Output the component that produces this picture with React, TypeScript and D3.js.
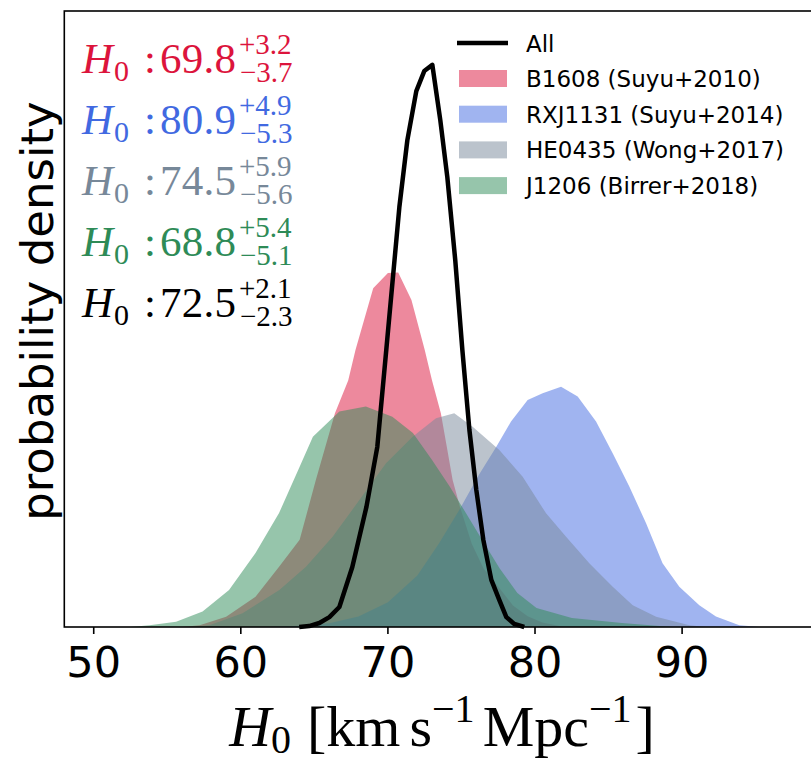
import React from "react";
import * as d3 from "d3";

// H0 samples and densities
const allH0 = [63.97, 64.65, 65.34, 66.02, 66.7, 67.58, 68.54, 69.28, 69.89, 70.78, 71.32, 71.93, 72.47, 73.02, 73.56, 74.04, 74.58, 75.06, 75.54, 76.01, 76.49, 77.03, 77.57, 78.05, 78.59, 79.27];
const allDensity = [0, 0.0003, 0.0013, 0.0032, 0.0065, 0.0195, 0.039, 0.0585, 0.09, 0.1364, 0.158, 0.174, 0.1805, 0.1825, 0.1646, 0.146, 0.119, 0.09, 0.064, 0.0445, 0.0282, 0.0153, 0.0088, 0.0032, 0.001, 0];

const b1608H0 = [56.0, 57.2, 59.0, 61.0, 62.6, 64.0, 65.1, 66.4, 67.3, 67.8, 69.0, 70.0, 70.7, 71.6, 72.5, 73.0, 73.6, 74.0, 74.4, 74.9, 75.7, 76.5, 77.6, 78.5, 79.5, 80.5, 82.0];
const b1608Density = [0, 0.0006, 0.0033, 0.0098, 0.0196, 0.0283, 0.0477, 0.0694, 0.08, 0.09, 0.11, 0.1149, 0.1151, 0.1062, 0.09, 0.08, 0.0694, 0.0586, 0.0477, 0.039, 0.027, 0.019, 0.0125, 0.007, 0.0035, 0.0015, 0];

const rxjH0 = [62, 64, 66, 68, 70, 72, 73.49, 74.85, 76.2, 77.37, 78.37, 79.5, 80.52, 81.77, 82.9, 84.15, 85.28, 86.41, 87.55, 88.67, 89.81, 91.17, 92.3, 93.89, 95.3];
const rxjDensity = [0, 0.0004, 0.0012, 0.0034, 0.008, 0.0167, 0.0273, 0.038, 0.0495, 0.0585, 0.0667, 0.0737, 0.0759, 0.078, 0.0748, 0.0667, 0.0564, 0.0456, 0.0337, 0.0207, 0.0131, 0.0071, 0.0034, 0.0006, 0];

const he0435H0 = [56.5, 57.86, 60.12, 62.62, 64.43, 66.24, 68.06, 69.87, 71.68, 73.27, 74.51, 75.76, 77.57, 79.16, 80.75, 82.11, 83.69, 85.28, 86.64, 88.23, 90.49, 91.63];
const he0435Density = [0, 0.0006, 0.0045, 0.012, 0.0196, 0.0293, 0.0412, 0.0532, 0.0618, 0.0678, 0.0694, 0.065, 0.0575, 0.0488, 0.0369, 0.0293, 0.0207, 0.0131, 0.0071, 0.0033, 0.0006, 0];

const j1206H0 = [52.5, 53.8, 55.6, 57.4, 59.2, 61.0, 62.6, 64.0, 64.9, 66.7, 68.5, 70.3, 71.7, 73.0, 74.2, 75.3, 76.4, 77.6, 78.8, 80.1, 82.5, 85.9, 89.3];
const j1206Density = [0, 0.0006, 0.0017, 0.005, 0.012, 0.024, 0.037, 0.052, 0.0618, 0.07, 0.0716, 0.0683, 0.063, 0.0542, 0.0456, 0.037, 0.0283, 0.019, 0.011, 0.0062, 0.0029, 0.0013, 0];

const lensNames = ["B1608 (Suyu+2010)", "RXJ1131 (Suyu+2014)", "HE0435 (Wong+2017)", "J1206 (Birrer+2018)"];
const lensColors = ["crimson", "royalblue", "lightslategray", "seagreen"];

// H0 summaries in the top left
const summaryValues = ["69.8", "80.9", "74.5", "68.8", "72.5"];
const summaryUpper = ["+3.2", "+4.9", "+5.9", "+5.4", "+2.1"];
const summaryLower = ["\u22123.7", "\u22125.3", "\u22125.6", "\u22125.1", "\u22122.3"];
const summaryColors = ["crimson", "royalblue", "lightslategray", "seagreen", "black"];

const xTicks = [50, 60, 70, 80, 90];

const zip = (xs: number[], ys: number[]) => xs.map((v, i) => [v, ys[i]] as [number, number]);

export default function App() {
  const width = 811;
  const height = 763;

  const x = d3.scaleLinear().domain([48, 100]).range([64.3, 829.2]);
  const y = d3.scaleLinear().domain([0, 0.2]).range([627, 11]);

  const area = d3
    .area<[number, number]>()
    .x((d) => x(d[0]))
    .y0(y(0))
    .y1((d) => y(d[1]));
  const line = d3
    .line<[number, number]>()
    .x((d) => x(d[0]))
    .y((d) => y(d[1]));

  const lenses = [
    zip(b1608H0, b1608Density),
    zip(rxjH0, rxjDensity),
    zip(he0435H0, he0435Density),
    zip(j1206H0, j1206Density),
  ];
  const all = zip(allH0, allDensity);

  const serif = "'Liberation Serif', 'DejaVu Serif', serif";
  const sans = "'DejaVu Sans', sans-serif";

  return (
    <svg
      width={width}
      height={height}
      style={{ position: "absolute", left: 0, top: 0, background: "white" }}
    >
      {/* filled posteriors */}
      {lenses.map((pts, i) => (
        <path key={i} d={area(pts) || ""} fill={lensColors[i]} fillOpacity={0.5} />
      ))}
      <path d={line(all) || ""} fill="none" stroke="black" strokeWidth={4.5} strokeLinejoin="round" />

      {/* frame */}
      <rect x={64.3} y={11} width={829.2 - 64.3} height={616} fill="none" stroke="black" strokeWidth={1.6} />

      {/* x axis */}
      {xTicks.map((t) => (
        <g key={t}>
          <line x1={x(t)} x2={x(t)} y1={627} y2={634} stroke="black" strokeWidth={1.6} />
          <text x={x(t)} y={677} textAnchor="middle" fontFamily={sans} fontSize={43}>
            {t}
          </text>
        </g>
      ))}
      <text x={442} y={746} textAnchor="middle" fontFamily={serif} fontSize={58}>
        <tspan fontStyle="italic">H</tspan>
        <tspan fontSize={40} dy={7}>0</tspan>
        <tspan dy={-7} dx={16}>[km</tspan>
        <tspan dx={9}>s</tspan>
        <tspan fontSize={40} dy={-24}>{"\u22121"}</tspan>
        <tspan dy={24} dx={8}>Mpc</tspan>
        <tspan fontSize={40} dy={-24}>{"\u22121"}</tspan>
        <tspan dy={24} dx={4}>]</tspan>
      </text>

      {/* y label */}
      <text
        transform={`translate(53, ${y(0.1) - 8}) rotate(-90)`}
        textAnchor="middle"
        fontFamily={sans}
        fontSize={45}
      >
        probability density
      </text>

      {/* H0 summaries */}
      {summaryValues.map((v, i) => {
        const base = 73 + i * 61;
        const c = summaryColors[i];
        return (
          <g key={v} fill={c} fontFamily={serif}>
            <text x={82} y={base} fontSize={43} fontStyle="italic">H</text>
            <text x={114} y={base + 8} fontSize={30}>0</text>
            <text x={144} y={base} fontSize={43}>:</text>
            <text x={160} y={base} fontSize={43} textLength={76}>{v}</text>
            <text x={239} y={base - 19} fontSize={29}>{summaryUpper[i]}</text>
            <text x={240} y={base + 9} fontSize={29}>{summaryLower[i]}</text>
          </g>
        );
      })}

      {/* legend */}
      <g fontFamily={sans} fontSize={23}>
        <line x1={457} x2={508} y1={43} y2={43} stroke="black" strokeWidth={4.5} />
        <text x={526} y={52}>All</text>
        {lensNames.map((name, i) => {
          const cy = 78.5 + i * 35.7;
          return (
            <g key={name}>
              <rect x={459} y={cy - 8.5} width={48} height={17} fill={lensColors[i]} fillOpacity={0.5} />
              <text x={526} y={cy + 8.5}>{name}</text>
            </g>
          );
        })}
      </g>
    </svg>
  );
}
